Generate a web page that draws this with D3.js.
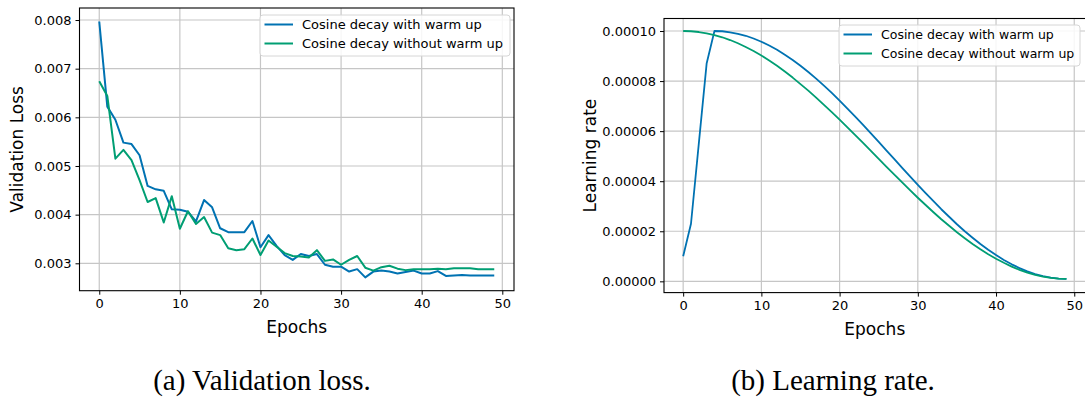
<!DOCTYPE html>
<html>
<head>
<meta charset="utf-8">
<script src="https://cdn.jsdelivr.net/npm/d3@7"></script>
<style>
  html, body { margin: 0; padding: 0; background: #fff; }
  svg { display: block; font-family: "DejaVu Sans", sans-serif; }
</style>
</head>
<body>
<svg id="chart" width="1085" height="399"></svg>
<script>
// ---------- data ----------
const epochs = d3.range(0, 50);
const seriesNames = ["Cosine decay with warm up", "Cosine decay without warm up"];
const xTicks = [0, 10, 20, 30, 40, 50];
const lossTicks = [0.003, 0.004, 0.005, 0.006, 0.007, 0.008];
const lrTicks = [0, 0.00002, 0.00004, 0.00006, 0.00008, 0.0001];
const captionA = "(a) Validation loss.";
const captionB = "(b) Learning rate.";

const lossWarm = [
  0.00797, 0.00622, 0.00595, 0.00548, 0.00545, 0.00522, 0.00459, 0.00452, 0.00449, 0.00411,
  0.00410, 0.00406, 0.00386, 0.00430, 0.00415, 0.00372, 0.00364, 0.00364, 0.00364, 0.00387,
  0.00333, 0.00358, 0.00336, 0.00317, 0.00307, 0.00319, 0.00315, 0.00319, 0.00297, 0.00293,
  0.00293, 0.00283, 0.00288, 0.00271, 0.00283, 0.00285, 0.00283, 0.00279, 0.00282, 0.00285,
  0.00279, 0.00279, 0.00284, 0.00274, 0.00275, 0.00276, 0.00275, 0.00275, 0.00275, 0.00275
];
const lossNoWarm = [
  0.00674, 0.00644, 0.00515, 0.00533, 0.00512, 0.00471, 0.00426, 0.00434, 0.00384, 0.00438,
  0.00371, 0.00407, 0.00381, 0.00395, 0.00363, 0.00358, 0.00331, 0.00327, 0.00329, 0.00351,
  0.00317, 0.00347, 0.00334, 0.00321, 0.00315, 0.00314, 0.00312, 0.00327, 0.00305, 0.00308,
  0.00297, 0.00307, 0.00315, 0.00291, 0.00285, 0.00292, 0.00295, 0.00289, 0.00286, 0.00288,
  0.00288, 0.00288, 0.00289, 0.00288, 0.00290, 0.00290, 0.00290, 0.00288, 0.00288, 0.00288
];
const lrWarm = [
  1.00e-5, 2.30e-5, 5.50e-5, 8.70e-5, 10.00e-5, 9.99e-5, 9.95e-5, 9.89e-5, 9.81e-5, 9.70e-5,
  9.57e-5, 9.42e-5, 9.25e-5, 9.05e-5, 8.84e-5, 8.61e-5, 8.36e-5, 8.10e-5, 7.82e-5, 7.53e-5,
  7.22e-5, 6.90e-5, 6.58e-5, 6.25e-5, 5.91e-5, 5.57e-5, 5.22e-5, 4.88e-5, 4.53e-5, 4.19e-5,
  3.85e-5, 3.52e-5, 3.20e-5, 2.88e-5, 2.58e-5, 2.28e-5, 2.00e-5, 1.74e-5, 1.49e-5, 1.26e-5,
  1.05e-5, 0.85e-5, 0.68e-5, 0.53e-5, 0.40e-5, 0.29e-5, 0.21e-5, 0.15e-5, 0.11e-5, 0.10e-5
];
const lrNoWarm = [
  10.00e-5, 9.99e-5, 9.96e-5, 9.91e-5, 9.84e-5, 9.75e-5, 9.64e-5, 9.51e-5, 9.36e-5, 9.20e-5,
  9.02e-5, 8.82e-5, 8.61e-5, 8.38e-5, 8.14e-5, 7.88e-5, 7.62e-5, 7.34e-5, 7.05e-5, 6.76e-5,
  6.46e-5, 6.15e-5, 5.84e-5, 5.53e-5, 5.21e-5, 4.89e-5, 4.57e-5, 4.26e-5, 3.95e-5, 3.64e-5,
  3.34e-5, 3.05e-5, 2.76e-5, 2.48e-5, 2.22e-5, 1.96e-5, 1.72e-5, 1.49e-5, 1.28e-5, 1.08e-5,
  0.90e-5, 0.74e-5, 0.59e-5, 0.46e-5, 0.35e-5, 0.26e-5, 0.19e-5, 0.14e-5, 0.11e-5, 0.10e-5
];

// ---------- styles ----------
const colors = ["#0072B2", "#009E73"];
const svg = d3.select("#chart");

function panel(cfg) {
  const x = d3.scaleLinear().domain([-2.45, 51.45]).range([cfg.left, cfg.right]);
  const y = d3.scaleLinear().domain(cfg.yDomain).range([cfg.bottom, cfg.top]);
  const g = svg.append("g");
  const clipId = "clip" + cfg.id;
  svg.append("clipPath").attr("id", clipId).append("rect")
    .attr("x", cfg.left).attr("y", cfg.top)
    .attr("width", cfg.right - cfg.left).attr("height", cfg.bottom - cfg.top);

  // grid
  const grid = g.append("g").attr("clip-path", `url(#${clipId})`);
  grid.selectAll("line.vx").data(xTicks).join("line")
    .attr("x1", d => x(d)).attr("x2", d => x(d))
    .attr("y1", cfg.top).attr("y2", cfg.bottom)
    .attr("stroke", "#c6c6c6").attr("stroke-width", 1.2);
  grid.selectAll("line.hy").data(cfg.yTicks).join("line")
    .attr("y1", d => y(d)).attr("y2", d => y(d))
    .attr("x1", cfg.left).attr("x2", cfg.right)
    .attr("stroke", "#c6c6c6").attr("stroke-width", 1.2);

  // lines
  const line = d3.line().x((d, i) => x(epochs[i])).y(d => y(d));
  cfg.series.forEach((s, i) => {
    g.append("path").datum(s)
      .attr("clip-path", `url(#${clipId})`)
      .attr("fill", "none").attr("stroke", colors[i])
      .attr("stroke-width", cfg.lw).attr("stroke-linejoin", "round")
      .attr("d", line);
  });

  // axes
  const xAxis = d3.axisBottom(x).tickValues(xTicks).tickSize(4).tickPadding(4)
    .tickFormat(d3.format("d"));
  const yAxis = d3.axisLeft(y).tickValues(cfg.yTicks).tickSize(4).tickPadding(4)
    .tickFormat(d3.format(cfg.fmt));
  const gx = g.append("g").attr("transform", `translate(0,${cfg.bottom})`).call(xAxis);
  const gy = g.append("g").attr("transform", `translate(${cfg.left},0)`).call(yAxis);
  [gx, gy].forEach(a => {
    a.attr("font-family", null).attr("font-size", null);
    a.select(".domain").remove();
    a.selectAll(".tick line").attr("stroke", "#000").attr("stroke-width", 1);
    a.selectAll(".tick text").style("font-size", "13px").attr("fill", "#000")
      .style("font-family", "DejaVu Sans");
  });

  // spines
  g.append("rect").attr("x", cfg.left).attr("y", cfg.top)
    .attr("width", cfg.right - cfg.left).attr("height", cfg.bottom - cfg.top)
    .attr("fill", "none").attr("stroke", "#000").attr("stroke-width", 1.1);

  // axis labels
  g.append("text").attr("x", (cfg.left + cfg.right) / 2)
    .attr("y", cfg.bottom + 42).attr("text-anchor", "middle")
    .style("font-size", "17px").text("Epochs");
  g.append("text")
    .attr("transform", `translate(${cfg.yLabelX},${(cfg.top + cfg.bottom) / 2}) rotate(-90)`)
    .attr("text-anchor", "middle").style("font-size", "17px").text(cfg.yLabel);

  // legend
  const L = cfg.legend;
  const lg = g.append("g");
  lg.append("rect").attr("x", L.x).attr("y", L.y).attr("width", L.w).attr("height", L.h)
    .attr("rx", 3).attr("fill", "#fff").attr("fill-opacity", 0.85)
    .attr("stroke", "#d6d6d6").attr("stroke-width", 1);
  seriesNames.forEach((name, i) => {
    const yy = L.y + 9.5 + i * 19;
    lg.append("line").attr("x1", L.x + 4.5).attr("x2", L.x + 33)
      .attr("y1", yy).attr("y2", yy).attr("stroke", colors[i]).attr("stroke-width", 2);
    lg.append("text").attr("x", L.x + 42).attr("y", yy).attr("dy", "0.35em")
      .style("font-size", L.fs + "px").text(name);
  });

  // caption
  svg.append("text").attr("x", cfg.capX).attr("y", 390).attr("text-anchor", "middle")
    .style("font-family", "'Liberation Serif', serif").style("font-size", "29px")
    .text(cfg.caption);
}

panel({
  id: "a", left: 79.5, right: 514, top: 8, bottom: 290.7,
  yDomain: [0.002437, 0.008247], yTicks: lossTicks, fmt: ".3f",
  series: [lossWarm, lossNoWarm], lw: 2,
  yLabel: "Validation Loss", yLabelX: 23,
  legend: { x: 260, y: 15, w: 250, h: 41, fs: 13 },
  caption: captionA, capX: 262
});
panel({
  id: "b", left: 664, right: 1085.6, top: 18.5, bottom: 292.6,
  yDomain: [-0.0000045, 0.000105], yTicks: lrTicks, fmt: ".5f",
  series: [lrWarm, lrNoWarm], lw: 1.8,
  yLabel: "Learning rate", yLabelX: 596,
  legend: { x: 839, y: 25, w: 241, h: 41, fs: 12.5 },
  caption: captionB, capX: 833
});
</script>
</body>
</html>
